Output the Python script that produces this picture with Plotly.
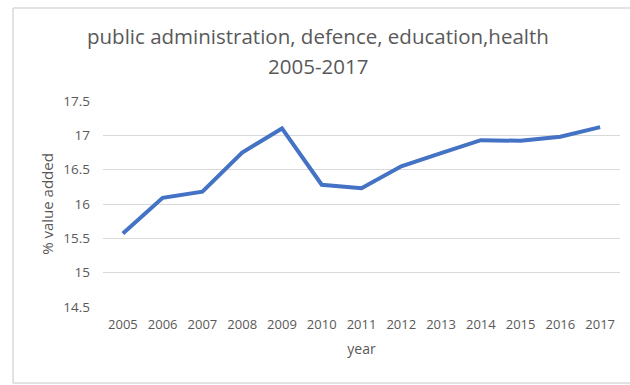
import plotly.graph_objects as go

years = ['2005', '2006', '2007', '2008', '2009', '2010', '2011',
         '2012', '2013', '2014', '2015', '2016', '2017']
value_added = [15.57, 16.09, 16.18, 16.75, 17.10, 16.28, 16.23,
               16.55, 16.74, 16.93, 16.92, 16.98, 17.12]
y_ticks = [14.5, 15, 15.5, 16, 16.5, 17, 17.5]
y_tick_labels = ['14.5', '15', '15.5', '16', '16.5', '17', '17.5']
title_lines = ['public administration, defence, education,health', '2005-2017']

line_color = '#4472C4'
text_color = '#595959'
grid_color = '#D9D9D9'
frame_color = '#D9D9D9'

fig = go.Figure(go.Scatter(
    x=years,
    y=value_added,
    mode='lines',
    line=dict(color=line_color, width=4),
))

# chart area border (top, left, bottom), like the excel chart frame
frame_left, frame_right = -0.174, 1.2
frame_bottom, frame_top = -0.369, 1.451
shapes = []
for x0, y0, x1, y1 in [(frame_left, frame_top, frame_right, frame_top),
                       (frame_left, frame_bottom, frame_left, frame_top),
                       (frame_left, frame_bottom, frame_right, frame_bottom)]:
    shapes.append(dict(type='line', xref='paper', yref='paper',
                       x0=x0, y0=y0, x1=x1, y1=y1,
                       line=dict(color=frame_color, width=1.5), layer='below'))

# title as two lines with excel-like spacing
annotations = []
for title_y, text in zip([1.316, 1.17], title_lines):
    annotations.append(dict(
        text=text, xref='paper', yref='paper',
        x=0.416, y=title_y, xanchor='center', yanchor='middle',
        showarrow=False, font=dict(size=20.5, color=text_color),
    ))

fig.update_layout(
    width=630, height=385,
    margin=dict(l=103, r=10, t=101, b=78),
    paper_bgcolor='white',
    plot_bgcolor='white',
    font=dict(family='Open Sans', color=text_color, size=13),
    showlegend=False,
    shapes=shapes,
    annotations=annotations,
    xaxis=dict(
        type='category',
        range=[-0.5, 12.5],
        showgrid=False,
        showline=False,
        ticks='',
        ticklabelstandoff=8,
        tickfont=dict(size=13, color=text_color),
        title=dict(text='year', font=dict(size=14, color=text_color), standoff=12),
    ),
    yaxis=dict(
        range=[14.5, 17.5],
        tickvals=y_ticks,
        ticktext=y_tick_labels,
        showgrid=True,
        gridcolor=grid_color,
        gridwidth=1.3,
        zeroline=False,
        showline=False,
        ticks='',
        ticklabelstandoff=12,
        tickfont=dict(size=13.5, color=text_color),
        title=dict(text='% value added', font=dict(size=15, color=text_color), standoff=6),
    ),
)

# page is just the chart: no body margin, no scrollbars, no modebar
fig.write_html("out.html",
               config={'displayModeBar': False},
               post_script="document.body.style.margin = '0'; document.body.style.overflow = 'hidden';")
